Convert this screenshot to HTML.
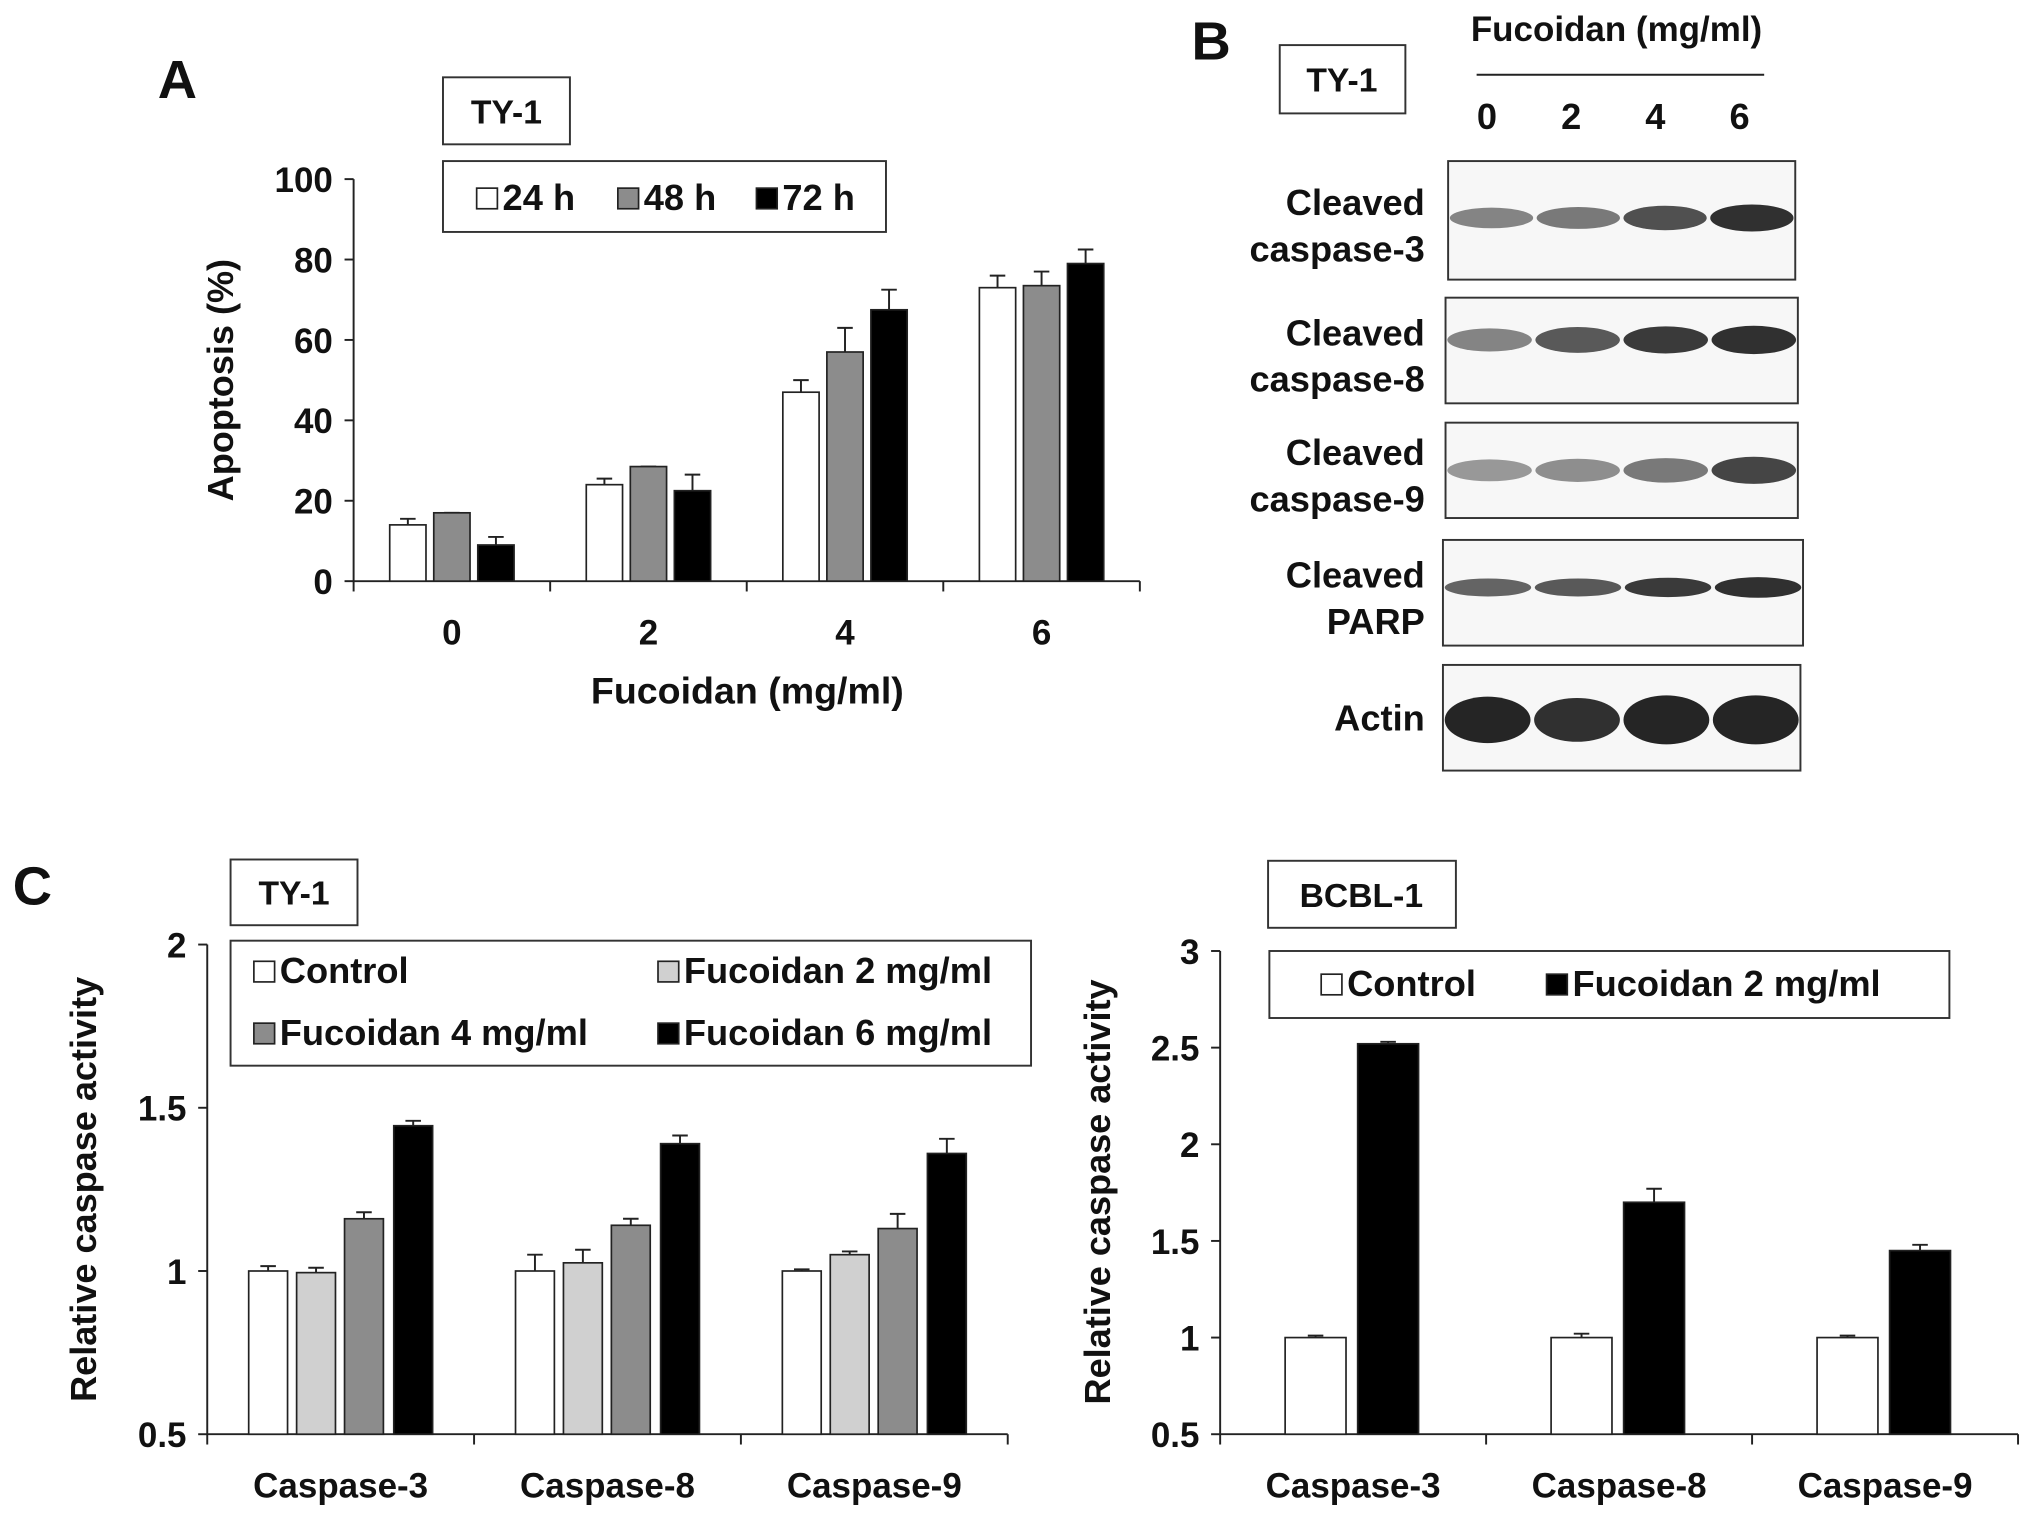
<!DOCTYPE html>
<html><head><meta charset="utf-8"><style>
html,body{margin:0;padding:0;background:#fff}
svg{display:block}
text{font-family:"Liberation Sans",Arial,sans-serif;font-weight:bold;fill:#111}
</style></head><body>
<svg id="fig" width="2031" height="1527" viewBox="0 0 1568 1185" preserveAspectRatio="none" xmlns="http://www.w3.org/2000/svg">
<g id="A"></g>
<g id="B"></g>
<g id="C1"></g>
<g id="C2"></g>
</svg>
<script>
// Panel A data
const aCats=["0","2","4","6"];
const a24=[14,24,47,73], a48=[17,28.5,57,73.5], a72=[9,22.5,67.5,79];
const a24e=[1.5,1.5,3,3], a48e=[0,0,6,3.5], a72e=[2,4,5,3.5];
const aTicks=[0,20,40,60,80,100];
// Panel C (TY-1) data
const cCats=["Caspase-3","Caspase-8","Caspase-9"];
const cCtrl=[1,1,1], cF2=[0.995,1.025,1.05], cF4=[1.16,1.14,1.13], cF6=[1.445,1.39,1.36];
const cCtrlE=[0.015,0.05,0.005], cF2E=[0.015,0.04,0.01], cF4E=[0.02,0.02,0.045], cF6E=[0.015,0.025,0.045];
const cTicks=[0.5,1,1.5,2];
// Panel C (BCBL-1) data
const dCtrl=[1,1,1], dF2=[2.52,1.70,1.45];
const dCtrlE=[0.01,0.02,0.01], dF2E=[0.01,0.07,0.03];
const dTicks=[0.5,1,1.5,2,2.5,3];

const NS="http://www.w3.org/2000/svg";
function mk(p,tag,at,txt){const e=document.createElementNS(NS,tag);for(const k in at)e.setAttribute(k,at[k]);if(txt!==undefined)e.textContent=txt;p.appendChild(e);return e;}

function chart(g,o){
  const y=v=>o.y0-(v-o.vmin)/(o.vmax-o.vmin)*(o.y0-o.ytop);
  const ax=mk(g,'path',{d:`M${o.x0} ${o.ytop}V${o.y0}H${o.x1}`,stroke:'#222','stroke-width':1.5,fill:'none'});
  
  
  o.ticks.forEach(t=>{
    const l=mk(g,'line',{x1:o.x0-7,x2:o.x0,y1:y(t),y2:y(t),stroke:'#222','stroke-width':1.5});
    
    
    const tx=mk(g,'text',{x:o.x0-16,y:y(t)+10,'text-anchor':'end','font-size':27},String(t));
    
    
  });
  const n=o.cats.length, step=(o.x1-o.x0)/n;
  for(let i=0;i<=n;i++){
    const l=mk(g,'line',{x1:o.x0+i*step,x2:o.x0+i*step,y1:o.y0,y2:o.y0+8,stroke:'#222','stroke-width':1.5});
    
    
  }
  o.cats.forEach((c,i)=>{
    const cx=o.x0+(i+0.5)*step;
    const tx=mk(g,'text',{x:cx,y:o.y0+49,'text-anchor':'middle','font-size':o.catSize||27},c);
    
    
    o.series.forEach((s,k)=>{
      const bx=cx+o.offs[k]-o.bw/2, v=s.vals[i], top=y(v);
      const ex=cx+o.offs[k];
      const ye=y(v+s.err[i]);
      const el=mk(g,'path',{d:`M${ex} ${top}V${ye}M${ex-6} ${ye}H${ex+6}`,stroke:'#222','stroke-width':1.5,fill:'none'});
      
      
      const r=mk(g,'rect',{x:bx,y:top,width:o.bw,height:o.y0-top,fill:s.fill,stroke:'#222','stroke-width':1.3});
      
      
    });
  });
  return y;
}
function box(g,x,y,w,h,name){const r=mk(g,'rect',{x:x,y:y,width:w,height:h,fill:'#fff',stroke:'#333','stroke-width':1.5});return r;}
function txt(g,x,y,s,t,name,anchor,rot){const a={x:x,y:y,'font-size':s};if(anchor)a['text-anchor']=anchor;if(rot)a.transform=`rotate(-90 ${x} ${y})`;const e=mk(g,'text',a,t);return e;}
function sw(g,x,y,fill,label,name){const r=mk(g,'rect',{x:x,y:y,width:16,height:16,fill:fill,stroke:'#222','stroke-width':1.3});const t=mk(g,'text',{x:x+20,y:y+17,'font-size':28},label);}

// Panel A
const A=document.getElementById('A');
txt(A,137,76,42,'A','panel-label-a','middle');
box(A,342,60,98,52,'cell-line-box');txt(A,391,96,26,'TY-1','cell-line-label','middle');
chart(A,{x0:273,x1:880,y0:451,ytop:139,vmin:0,vmax:100,ticks:aTicks,cats:aCats,bw:28,offs:[-34,0,34],
  series:[{name:'24h',vals:a24,err:a24e,fill:'#fff'},{name:'48h',vals:a48,err:a48e,fill:'#8c8c8c'},{name:'72h',vals:a72,err:a72e,fill:'#000'}]});
box(A,342,125,342,55,'legend-box');
sw(A,368,146,'#fff','24 h','legend-24h');sw(A,477,146,'#8c8c8c','48 h','legend-48h');sw(A,584,146,'#000','72 h','legend-72h');
txt(A,180,295,28,'Apoptosis (%)','y-axis-title','middle',true);
txt(A,577,546,29,'Fucoidan (mg/ml)','x-axis-title','middle');

// Panel B
const B=document.getElementById('B');
txt(B,935,46,42,'B','panel-label-b','middle');
box(B,988,35,97,53,'cell-line-box');txt(B,1036,71,26,'TY-1','cell-line-label','middle');
txt(B,1248,32,27,'Fucoidan (mg/ml)','dose-header','middle');
mk(B,'line',{x1:1140,x2:1362,y1:58,y2:58,stroke:'#222','stroke-width':1.5});
["0","2","4","6"].forEach((l,i)=>txt(B,1148+i*65,100,28,l,'lane-label','middle'));
const blots=[
 {n:'cleaved-caspase-3',b:[1118,125,268,92],l:['Cleaved','caspase-3'],bands:[[0.55,0.3],[0.6,0.35],[0.8,0.45],[0.95,0.55]],by:0.48},
 {n:'cleaved-caspase-8',b:[1116,231,272,82],l:['Cleaved','caspase-8'],bands:[[0.55,0.4],[0.75,0.5],[0.9,0.55],[0.95,0.6]],by:0.4},
 {n:'cleaved-caspase-9',b:[1116,328,272,74],l:['Cleaved','caspase-9'],bands:[[0.45,0.35],[0.5,0.4],[0.6,0.45],[0.85,0.55]],by:0.5},
 {n:'cleaved-parp',b:[1114,419,278,82],l:['Cleaved','PARP'],bands:[[0.7,0.2],[0.75,0.2],[0.9,0.25],[0.95,0.3]],by:0.45},
 {n:'actin',b:[1114,516,276,82],l:['Actin'],bands:[[1,1.3],[0.95,1.2],[1,1.4],[1,1.4]],by:0.52}];
blots.forEach(bl=>{
  const [x,y,w,h]=bl.b;
  const r=mk(B,'rect',{x:x,y:y,width:w,height:h,fill:'#f7f7f7',stroke:'#333','stroke-width':1.5});
  
  
  bl.bands.forEach((bd,i)=>{
    const e=mk(B,'ellipse',{cx:x+w*(0.125+0.25*i),cy:y+h*bl.by,rx:w*0.12,ry:5+bd[1]*10,fill:'#000',opacity:bd[0]*0.85});
    
    
  });
  if(bl.l.length==2){txt(B,1100,y+h/2-4,28,bl.l[0],bl.n+'-label','end');txt(B,1100,y+h/2+32,28,bl.l[1],bl.n+'-label','end');}
  else txt(B,1100,y+h/2+10,28,bl.l[0],bl.n+'-label','end');
});

// Panel C left
const C1=document.getElementById('C1');
txt(C1,25,702,42,'C','panel-label-c','middle');
box(C1,178,667,98,51,'cell-line-box');txt(C1,227,702,26,'TY-1','cell-line-label','middle');
chart(C1,{x0:160,x1:778,y0:1113,ytop:733,vmin:0.5,vmax:2,ticks:cTicks,cats:cCats,bw:30,offs:[-56,-19,18,56],
  series:[{name:'control',vals:cCtrl,err:cCtrlE,fill:'#fff'},{name:'fuc2',vals:cF2,err:cF2E,fill:'#d0d0d0'},{name:'fuc4',vals:cF4,err:cF4E,fill:'#8c8c8c'},{name:'fuc6',vals:cF6,err:cF6E,fill:'#000'}]});
box(C1,178,730,618,97,'legend-box');
sw(C1,196,746,'#fff','Control','legend-control');sw(C1,508,746,'#d0d0d0','Fucoidan 2 mg/ml','legend-fucoidan-2');
sw(C1,196,794,'#8c8c8c','Fucoidan 4 mg/ml','legend-fucoidan-4');sw(C1,508,794,'#000','Fucoidan 6 mg/ml','legend-fucoidan-6');
txt(C1,74,923,28,'Relative caspase activity','y-axis-title','middle',true);

// Panel C right
const C2=document.getElementById('C2');
box(C2,979,668,145,52,'cell-line-box');txt(C2,1051,704,26,'BCBL-1','cell-line-label','middle');
chart(C2,{x0:942,x1:1558,y0:1113,ytop:738,vmin:0.5,vmax:3,ticks:dTicks,cats:cCats,bw:47,offs:[-29,27],
  series:[{name:'control',vals:dCtrl,err:dCtrlE,fill:'#fff'},{name:'fuc2',vals:dF2,err:dF2E,fill:'#000'}]});
box(C2,980,738,525,52,'legend-box');
sw(C2,1020,756,'#fff','Control','legend-control');sw(C2,1194,756,'#000','Fucoidan 2 mg/ml','legend-fucoidan-2');
txt(C2,857,925,28,'Relative caspase activity','y-axis-title','middle',true);
</script>
</body></html>
